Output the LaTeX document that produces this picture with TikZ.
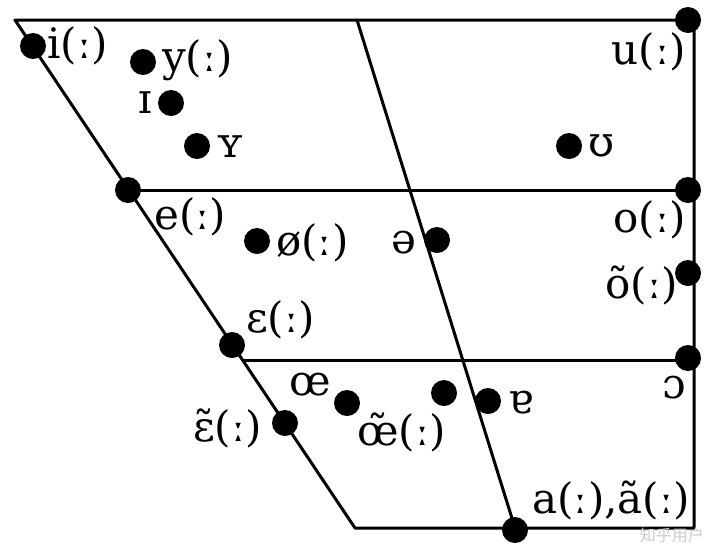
\documentclass[tikz,border=0pt]{standalone}
\usepackage{fontspec}
\setmainfont{DejaVu Serif}
\newfontfamily\cjk{Noto Sans CJK SC}
\begin{document}
\begin{tikzpicture}[x=1pt,y=-1pt,
  vdot/.style={circle,fill=black,inner sep=0pt,minimum size=26pt},
  lbl/.style={inner sep=0pt,font=\fontsize{42}{42}\selectfont},
  edge/.style={line width=3pt,line cap=round,line join=round}]
\useasboundingbox (0,0) rectangle (720,550);
% frame corners
\coordinate (TL) at (15,20);
\coordinate (TM) at (357,20);
\coordinate (TR) at (694,20);
\coordinate (BL) at (355,528);
\coordinate (BM) at (515,528);
\coordinate (BR) at (694,528);
\coordinate (L1) at (129,190);
\coordinate (R1) at (694,190);
\coordinate (L2) at (243,360);
\coordinate (R2) at (694,360);
\draw[edge] (TL) -- (TR) -- (BR) -- (BL) -- cycle;
\draw[edge] (TM) -- (BM);
\draw[edge] (L1) -- (R1);
\draw[edge] (L2) -- (R2);
% dots
\node[vdot] (i) at (33,46) {};
\node[vdot] (y) at (143,62) {};
\node[vdot] (I) at (171,103) {};
\node[vdot] (Y) at (197,146) {};
\node[vdot] (U) at (569,146) {};
\node[vdot] (u) at (688,20) {};
\node[vdot] (e) at (128,190) {};
\node[vdot] (o) at (688,190) {};
\node[vdot] (oe2) at (257,241) {};
\node[vdot] (schwa) at (437,240) {};
\node[vdot] (onas) at (688,273) {};
\node[vdot] (eps) at (232,345) {};
\node[vdot] (oo) at (688,358) {};
\node[vdot] (oe) at (347,403) {};
\node[vdot] (oenas) at (444,393) {};
\node[vdot] (turna) at (488,401) {};
\node[vdot] (epsnas) at (285,423) {};
\node[vdot] (a) at (515,530) {};
% labels
\node[lbl,anchor=west] (ti) at (47,46) {i(ː)};
\node[lbl,anchor=west] (ty) at (162,60) {y(ː)};
\node[lbl,anchor=east] (tI) at (152,103) {ɪ};
\node[lbl,anchor=west] (tY) at (216,147) {ʏ};
\node[lbl,anchor=east] (tu) at (686,52) {u(ː)};
\node[lbl,anchor=west] (tU) at (588,146) {ʊ};
\node[lbl,anchor=west] (te) at (154,217) {e(ː)};
\node[lbl,anchor=west] (tø) at (276,243) {ø(ː)};
\node[lbl,anchor=east] (tschwa) at (417,243) {ə};
\node[lbl,anchor=east] (to) at (686,220) {o(ː)};
\node[lbl,anchor=east] (tonas) at (678,285) {õ(ː)};
\node[lbl,anchor=west] (teps) at (246,320) {ɛ(ː)};
\node[lbl,anchor=east] (too) at (686,388) {ɔ};
\node[lbl,anchor=west] (toe) at (289,385) {œ};
\node[lbl,anchor=east] (tepsnas) at (262,428) {ɛ̃(ː)};
\node[lbl,anchor=west] (toenas) at (357,432) {œ̃(ː)};
\node[lbl,anchor=west] (tturna) at (508,403) {ɐ};
\node[lbl,anchor=east] (ta) at (690,500) {a(ː),ã(ː)};
\node[inner sep=0pt,anchor=east,text=gray!40,font=\cjk\fontsize{16}{16}\selectfont] (wm) at (704,535) {知乎用户};
\end{tikzpicture}
\end{document}
